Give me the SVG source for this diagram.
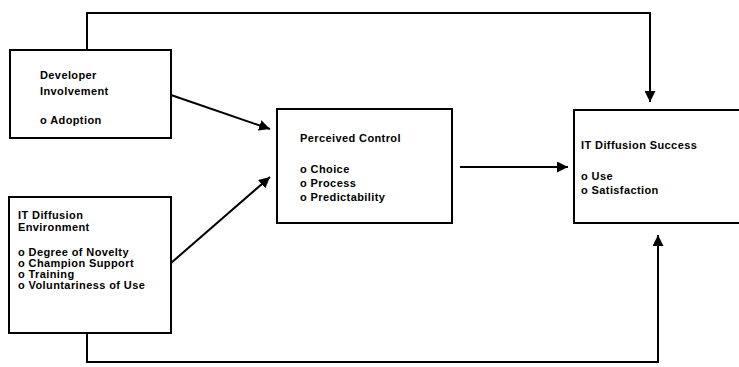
<svg xmlns="http://www.w3.org/2000/svg" width="739" height="367" viewBox="0 0 739 367">
<defs>
<marker id="ah" viewBox="0 0 10 10" refX="10" refY="5" markerWidth="11" markerHeight="11" markerUnits="userSpaceOnUse" orient="auto">
<path d="M0,0 L10,5 L0,10 Z" fill="#000"/>
</marker>
<style>
.box{fill:#fff;stroke:#000;stroke-width:2}
.t{font-family:"Liberation Sans",Arial,sans-serif;font-weight:bold;font-size:11px;letter-spacing:0.4px;fill:#000}
.c{fill:none;stroke:#000;stroke-width:2}
</style>
</defs>
<rect width="739" height="367" fill="#fff"/>
<g id="connectors">
<polyline class="c" points="87,50 87,13 650,13 650,102" marker-end="url(#ah)"/>
<polyline class="c" points="87,333 87,362 658,362 658,235" marker-end="url(#ah)"/>
<line class="c" x1="171" y1="95" x2="270" y2="129" marker-end="url(#ah)"/>
<line class="c" x1="171" y1="263" x2="270" y2="177" marker-end="url(#ah)"/>
<line class="c" x1="460" y1="167" x2="568" y2="167" marker-end="url(#ah)"/>
</g>
<g id="developer">
<rect class="box" x="10" y="50" width="161" height="88"/>
<text class="t" x="40" y="79">Developer</text>
<text class="t" x="40" y="95">Involvement</text>
<text class="t" x="40" y="124">o Adoption</text>
</g>
<g id="environment">
<rect class="box" x="9" y="197" width="162" height="136"/>
<text class="t" x="18" y="219">IT Diffusion</text>
<text class="t" x="18" y="231">Environment</text>
<text class="t" x="18" y="256">o Degree of Novelty</text>
<text class="t" x="18" y="267">o Champion Support</text>
<text class="t" x="18" y="278">o Training</text>
<text class="t" x="18" y="289">o Voluntariness of Use</text>
</g>
<g id="control">
<rect class="box" x="277" y="109" width="175" height="114"/>
<text class="t" x="300" y="142">Perceived Control</text>
<text class="t" x="300" y="173">o Choice</text>
<text class="t" x="300" y="187">o Process</text>
<text class="t" x="300" y="201">o Predictability</text>
</g>
<g id="success">
<rect class="box" x="574" y="110" width="175" height="113"/>
<text class="t" x="581" y="149">IT Diffusion Success</text>
<text class="t" x="581" y="180">o Use</text>
<text class="t" x="581" y="194">o Satisfaction</text>
</g>
</svg>
